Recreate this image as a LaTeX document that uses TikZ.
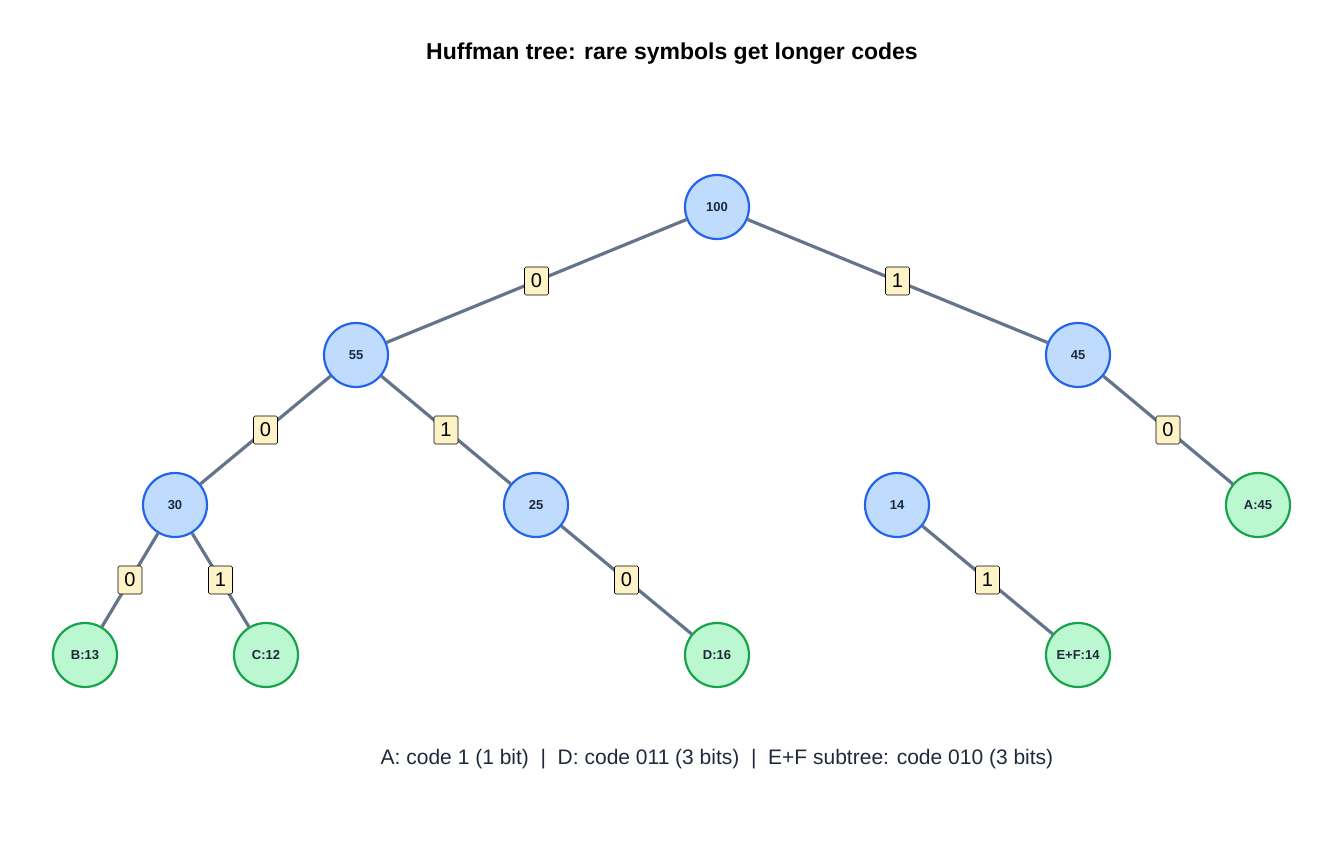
\documentclass[tikz,border=0pt]{standalone}
\usepackage{fontspec}
\setmainfont{Liberation Sans}
\definecolor{inF}{HTML}{BFDBFE}\definecolor{inD}{HTML}{2563EB}
\definecolor{lfF}{HTML}{BBF7D0}\definecolor{lfD}{HTML}{16A34A}
\definecolor{edge}{HTML}{64748B}\definecolor{lab}{HTML}{FEF3C7}
\definecolor{txt}{HTML}{1E293B}
\begin{document}
\begin{tikzpicture}[x=1pt,y=-1pt,
 inner/.style={circle,draw=inD,fill=inF,line width=2.2pt,minimum size=64pt,inner sep=0pt,font=\fontsize{13}{15}\selectfont\bfseries,text=txt},
 leaf/.style={circle,draw=lfD,fill=lfF,line width=2.2pt,minimum size=64pt,inner sep=0pt,font=\fontsize{13}{15}\selectfont\bfseries,text=txt},
 edg/.style={draw=edge,line width=3.2pt},
 bit/.style={fill=lab,draw=black,line width=0.6pt,rounded corners=1.5pt,inner sep=3pt,minimum width=24pt,minimum height=28pt,font=\fontsize{20}{22}\selectfont}]
\useasboundingbox (0,0) rectangle (1344,864);
\node[font=\fontsize{23}{26}\selectfont\bfseries] (title) at (672,54) {Huffman tree: rare symbols get longer codes};
\node[inner] (n100) at (717,207) {100};
\node[inner] (n55) at (356,355) {55};
\node[inner] (n45) at (1078,355) {45};
\node[inner] (n30) at (175,505) {30};
\node[inner] (n25) at (536,505) {25};
\node[inner] (n14) at (897,505) {14};
\node[leaf] (A) at (1258,505) {A:45};
\node[leaf] (B) at (85,655) {B:13};
\node[leaf] (C) at (266,655) {C:12};
\node[leaf] (D) at (717,655) {D:16};
\node[leaf] (EF) at (1078,655) {E+F:14};
\begin{scope}[on background layer/.style={}]
\end{scope}
\foreach \a/\b/\t in {n100/n55/0,n100/n45/1,n55/n30/0,n55/n25/1,n45/A/0,n30/B/0,n30/C/1,n25/D/0,n14/EF/1}{
 \draw[edg] (\a) -- node[bit] {\t} (\b);
}
\node[font=\fontsize{21}{24}\selectfont,text=txt] (foot) at (717,759) {A: code 1 (1 bit)\ \ |\ \ D: code 011 (3 bits)\ \ |\ \ E+F subtree: code 010 (3 bits)};
\end{tikzpicture}
\end{document}
